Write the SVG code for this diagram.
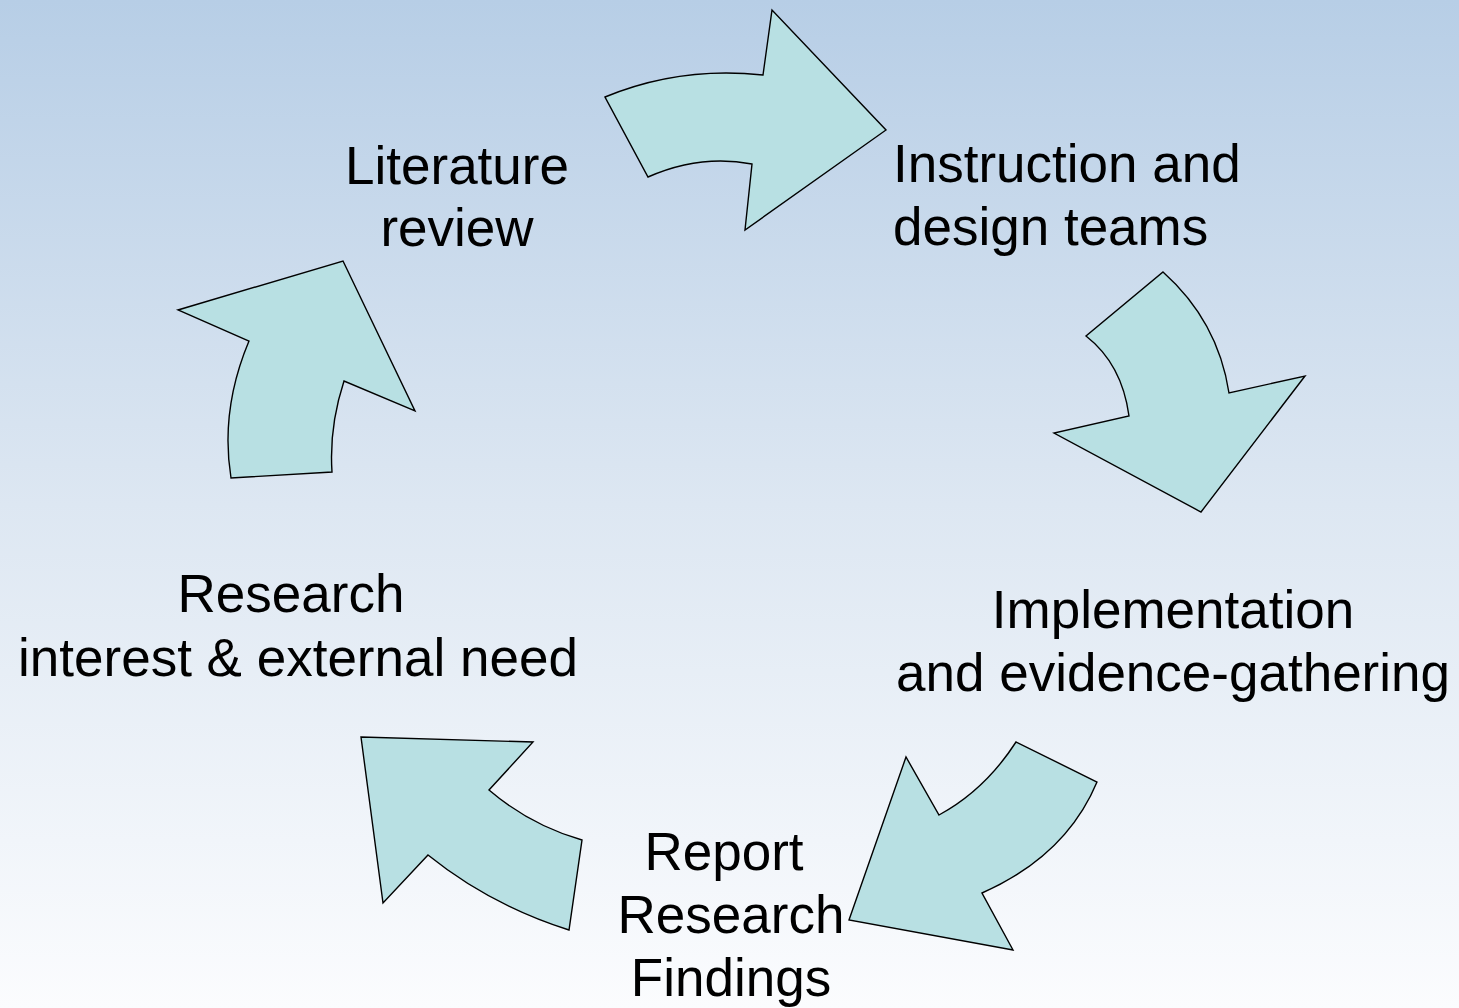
<svg xmlns="http://www.w3.org/2000/svg" width="1459" height="1008" viewBox="0 0 1459 1008">
<defs>
<linearGradient id="bg" x1="0" y1="0" x2="0" y2="1">
<stop offset="0" stop-color="#b7cee6"/>
<stop offset="0.5" stop-color="#dde7f2"/>
<stop offset="1" stop-color="#fbfcfe"/>
</linearGradient>
<style>
.arrow{fill:#b8e0e3;stroke:#000;stroke-width:1.4;stroke-linejoin:miter}
.lbl{font-family:"Liberation Sans",Arial,sans-serif;font-size:53px;fill:#000;text-anchor:middle}
</style>
</defs>
<rect width="1459" height="1008" fill="url(#bg)"/>
<g id="connectors">
<path id="arrow-top" class="arrow" d="M605,97 Q680,66 763,75 L772,10 L886,130 L745,230 L752,164 Q700,154 648,177 Z"/>
<path id="arrow-right" class="arrow" d="M1163,272 Q1218,321 1229,393 L1305,376 L1201,512 L1054,433 L1129,416 Q1122,364 1086,336 Z"/>
<path id="arrow-bottom-right" class="arrow" d="M1097,782 Q1066,856 982,893 L1013,950 L849,920 L906,757 L939,815 Q985,790 1016,742 Z"/>
<path id="arrow-bottom-left" class="arrow" d="M361,737 L533,742 L489,790 Q530,825 582,840 L569,930 Q490,905 428,855 L383,903 Z"/>
<path id="arrow-left" class="arrow" d="M343,261 L415,411 L344,381 Q329,427 332,472 L231,478 Q220,410 249,341 L178,310 Z"/>
</g>
<g id="node-literature">
<text class="lbl" x="457" y="184">Literature</text>
<text class="lbl" x="457" y="246">review</text>
</g>
<g id="node-instruction">
<text class="lbl" x="893" y="182" style="text-anchor:start">Instruction and</text>
<text class="lbl" x="893" y="245" style="text-anchor:start">design teams</text>
</g>
<g id="node-implementation">
<text class="lbl" x="1173" y="628">Implementation</text>
<text class="lbl" x="1173" y="691">and evidence-gathering</text>
</g>
<g id="node-report">
<text class="lbl" x="724" y="870">Report</text>
<text class="lbl" x="731" y="933">Research</text>
<text class="lbl" x="731" y="996">Findings</text>
</g>
<g id="node-research">
<text class="lbl" x="291" y="612">Research</text>
<text class="lbl" x="298" y="676">interest &amp; external need</text>
</g>
</svg>
